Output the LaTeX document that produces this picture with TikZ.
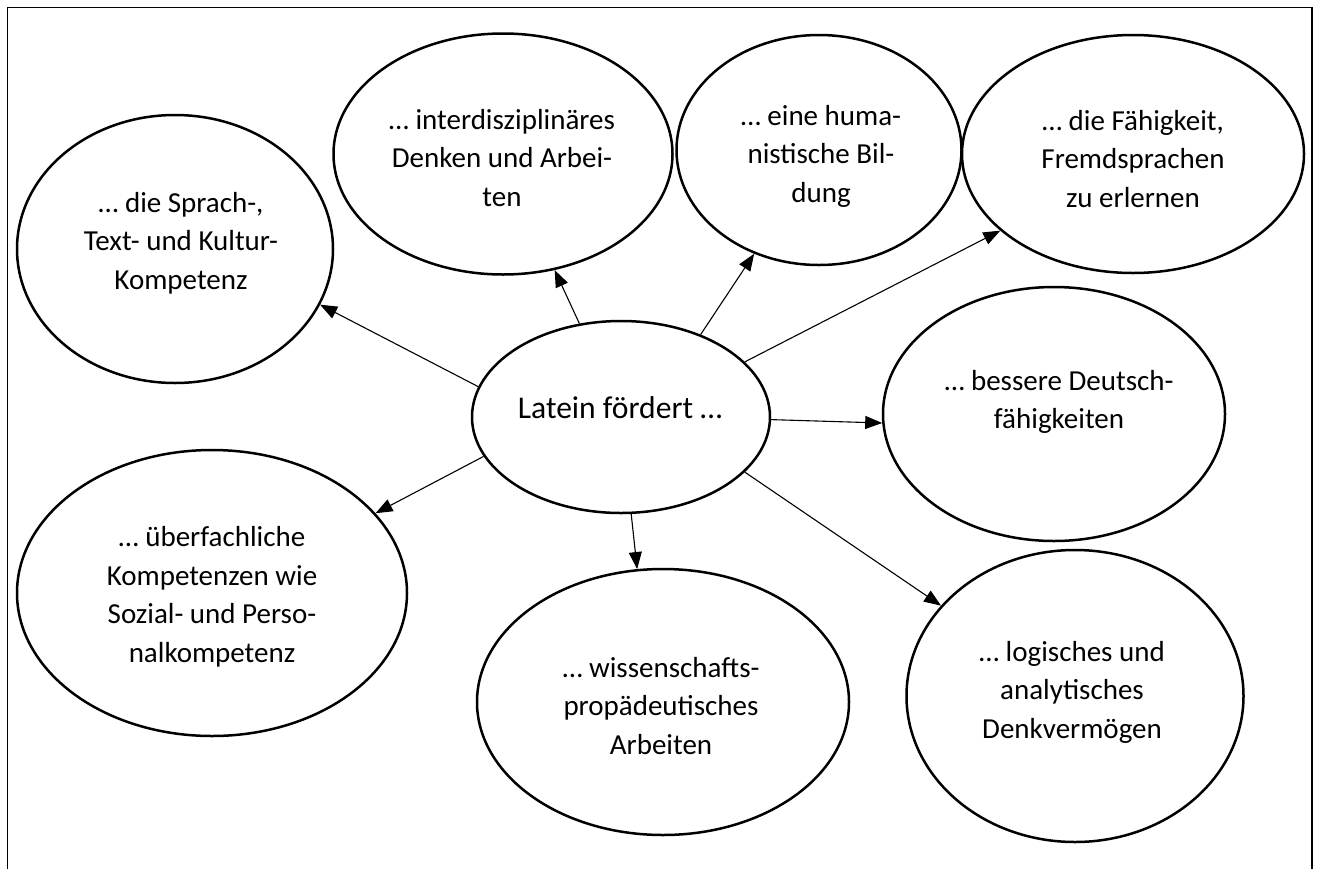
\documentclass[tikz,border=0pt]{standalone}
\usepackage{fontspec}
\setmainfont{Carlito}
\usetikzlibrary{shapes.geometric,arrows.meta}
\begin{document}
\begin{tikzpicture}[x=1pt,y=-1pt,
  ell/.style={ellipse, draw=black, line width=2.5pt, inner sep=0pt},
  txt/.style={font=\fontsize{29}{38.5}\selectfont, align=center, inner sep=0pt},
  bigtxt/.style={font=\fontsize{31.6}{40}\selectfont, inner sep=0pt, anchor=base},
  conn/.style={draw=black, line width=1.1pt, -{Triangle[length=17pt,width=13pt]}},
  framestyle/.style={draw=black, line width=1.6pt}]
\useasboundingbox (0,0) rectangle (1320,868);
% frame (bottom edge lies outside the picture)
\coordinate (fa) at (7.5,880);
\coordinate (fb) at (7.5,7.5);
\coordinate (fc) at (1312,7.5);
\coordinate (fd) at (1312,880);
\draw[framestyle] (fa) -- (fb) -- (fc) -- (fd);

% ellipses
\node[ell, minimum width=298, minimum height=192] (c) at (621,417) {};
\node[ell, minimum width=316, minimum height=268] (sprach) at (175,249) {};
\node[ell, minimum width=339, minimum height=241] (inter) at (503,154) {};
\node[ell, minimum width=285, minimum height=230] (human) at (819,150) {};
\node[ell, minimum width=342, minimum height=238] (faehig) at (1133,154) {};
\node[ell, minimum width=342, minimum height=254] (deutsch) at (1054,414) {};
\node[ell, minimum width=337, minimum height=292] (logisch) at (1075,696) {};
\node[ell, minimum width=372, minimum height=266] (wissen) at (663,702) {};
\node[ell, minimum width=390, minimum height=286] (ueber) at (212,593) {};

% texts
\node[bigtxt] (tc) at (620,418) {Latein fördert …};
\node[txt] (tsprach) at (181,243) {\strut … die Sprach-,\\\strut Text- und Kultur-\\\strut Kompetenz};
\node[txt] (tinter) at (502,160) {\strut … interdisziplinäres\\\strut Denken und Arbei-\\\strut ten};
\node[txt] (thuman) at (821,156) {\strut … eine huma-\\\strut nistische Bil-\\\strut dung};
\node[txt] (tfaehig) at (1133,161) {\strut … die Fähigkeit,\\\strut Fremdsprachen\\\strut zu erlernen};
\node[txt] (tdeutsch) at (1059,402) {\strut … bessere Deutsch-\\\strut fähigkeiten};
\node[txt] (tlogisch) at (1072,692) {\strut … logisches und\\\strut analytisches\\\strut Denkvermögen};
\node[txt] (twissen) at (661,708) {\strut … wissenschafts-\\\strut propädeutisches\\\strut Arbeiten};
\node[txt] (tueber) at (212,597) {\strut … überfachliche\\\strut Kompetenzen wie\\\strut Sozial- und Perso-\\\strut nalkompetenz};

% connectors
\draw[conn] (c.168.6) -- (sprach.-21.5);
\draw[conn] (c.114.6) -- (inter.-66.4);
\draw[conn] (c.46) -- (human.-122.8);
\draw[conn] (c.24.9) -- (faehig.-150.2);
\draw[conn] (c.-1.5) -- (deutsch.-177);
\draw[conn] (c.-24.9) -- (logisch.146);
\draw[conn] (c.-84.6) -- (wissen.101);
\draw[conn] (c.-164.6) -- (ueber.26.1);
\end{tikzpicture}
\end{document}
